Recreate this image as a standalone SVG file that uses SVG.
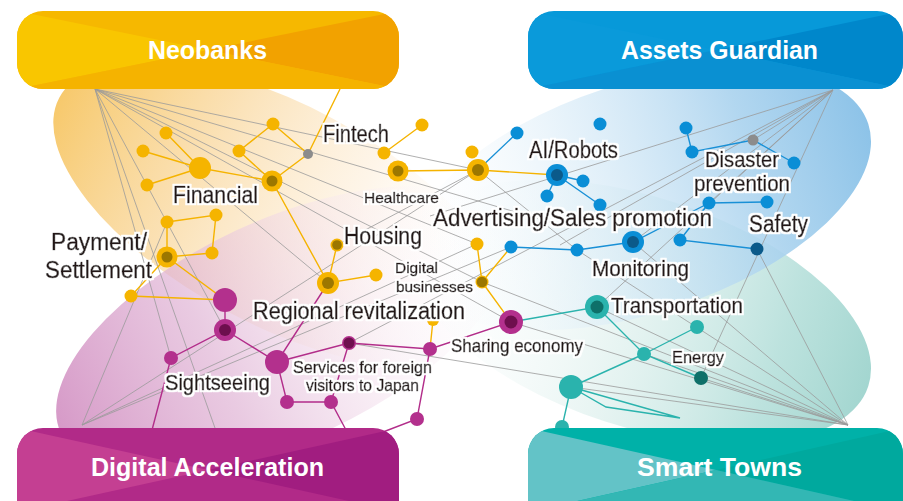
<svg xmlns="http://www.w3.org/2000/svg" width="903" height="501" viewBox="0 0 903 501">
<defs>
<linearGradient id="gy" x1="0" y1="0.5" x2="1" y2="0.5">
<stop offset="0" stop-color="#F6C35C" stop-opacity="0.9"/>
<stop offset="0.3" stop-color="#F9D699" stop-opacity="0.75"/>
<stop offset="0.62" stop-color="#FDEBD2" stop-opacity="0.5"/>
<stop offset="0.9" stop-color="#FFFFFF" stop-opacity="0"/>
</linearGradient>
<linearGradient id="gp" x1="0" y1="0.5" x2="1" y2="0.5">
<stop offset="0" stop-color="#CF88BE" stop-opacity="0.85"/>
<stop offset="0.35" stop-color="#E0B4D5" stop-opacity="0.7"/>
<stop offset="0.7" stop-color="#F6E5F0" stop-opacity="0.4"/>
<stop offset="1" stop-color="#FFFFFF" stop-opacity="0"/>
</linearGradient>
<linearGradient id="gb" x1="0" y1="0.5" x2="1" y2="0.5">
<stop offset="0" stop-color="#FFFFFF" stop-opacity="0"/>
<stop offset="0.4" stop-color="#D6EAF7" stop-opacity="0.6"/>
<stop offset="0.75" stop-color="#A9D2EE" stop-opacity="0.9"/>
<stop offset="1" stop-color="#8DC3E8" stop-opacity="1"/>
</linearGradient>
<linearGradient id="gt" x1="0" y1="0.5" x2="1" y2="0.5">
<stop offset="0" stop-color="#FFFFFF" stop-opacity="0"/>
<stop offset="0.45" stop-color="#DCEFEC" stop-opacity="0.6"/>
<stop offset="0.8" stop-color="#B5DFDA" stop-opacity="0.9"/>
<stop offset="1" stop-color="#A3D6D0" stop-opacity="1"/>
</linearGradient>
<clipPath id="cNeo"><rect x="17" y="11" width="382" height="78" rx="26"/></clipPath>
<clipPath id="cAss"><rect x="528" y="11" width="375" height="78" rx="26"/></clipPath>
<clipPath id="cDig"><rect x="17" y="428" width="382" height="110" rx="26"/></clipPath>
<clipPath id="cSma"><rect x="528" y="428" width="375" height="110" rx="26"/></clipPath>
<filter id="halo" x="-5%" y="-5%" width="110%" height="110%">
<feMorphology in="SourceAlpha" operator="dilate" radius="1.6" result="d"/>
<feFlood flood-color="#ffffff"/>
<feComposite in2="d" operator="in" result="w"/>
<feMerge><feMergeNode in="w"/><feMergeNode in="SourceGraphic"/></feMerge>
</filter>
<style>
.gl{stroke:#9b9b9b;stroke-width:0.8;fill:none}
.yl{stroke:#F5B300;stroke-width:1.4;fill:none}
.bl{stroke:#1990D6;stroke-width:1.4;fill:none}
.pl{stroke:#B22D8A;stroke-width:1.4;fill:none}
.tl{stroke:#2BB3AD;stroke-width:1.4;fill:none}
.y{fill:#F5B400}.yd{fill:#9C7700}
.p{fill:#B3308D}.pd{fill:#6E0F4E}
.b{fill:#0A8ED6}.bd{fill:#0B5A8A}
.t{fill:#2AB3AD}.td{fill:#0E7069}
.g{fill:#8c8c8c}
.lbl{font-family:"Liberation Sans",Arial,sans-serif;fill:#231815;stroke:#231815;stroke-width:0.55;stroke-linejoin:round}
.ttl{font-family:"Liberation Sans",Arial,sans-serif;font-weight:bold;fill:#fff;font-size:25px}
</style>
</defs>
<rect width="903" height="501" fill="#fff"/>
<g id="backgrounds">
<ellipse cx="280" cy="215" rx="250" ry="110" transform="rotate(28 280 215)" fill="url(#gy)"/>
<ellipse cx="283" cy="330" rx="245" ry="110" transform="rotate(-25 283 330)" fill="url(#gp)"/>
<ellipse cx="640" cy="312" rx="240" ry="115" transform="rotate(18 640 312)" fill="url(#gt)"/>
<ellipse cx="640" cy="198" rx="240" ry="115" transform="rotate(-18 640 198)" fill="url(#gb)"/>
</g>
<g id="connectors">
<g id="fan-lines">
<path class="gl" d="M95 89L478 170M95 89L560 225M95 89L477 244M95 89L482 282M95 89L511 322M95 89L328 283M95 89L225 330M95 89L171 358M95 89L215 428"/>
<path class="gl" d="M833 90L430 216M833 90L560 245M833 90L633 242M833 90L597 307M833 90L701 378M833 90L709 203M833 90L349 343M833 90L753 140"/>
<path class="gl" d="M82 425L167 222M82 425L478 170M82 425L477 244M82 425L511 247"/>
<path class="gl" d="M848 425L349 343M848 425L511 322M848 425L482 282M848 425L571 387M848 425L701 378M848 425L597 307M848 425L577 250M848 425L633 242M848 425L757 249M848 425L644 354"/>
<path class="gl" d="M478 170L337 245M478 170L577 250"/>
</g>
<path class="yl" d="M166 133L200 168M143 151L200 168M200 168L147 185M200 168L272 181M239 151L273 124M239 151L272 181M273 124L308 154L272 181M308 154L340 89M272 181L328 283M384 153L422 125M398 171L478 170L557 175M337 245L328 283L376 275M477 244L482 282L511 247M482 282L511 322M433 320L430 349M167 222L216 215L212 253L167 257L167 222M167 257L131 296L225 300L167 257"/>
<path class="pl" d="M225 300L225 330L171 358L152 430M225 330L277 362L328 283M277 362L349 343L430 349L511 322M277 362L287 402L331 402L346 430M349 343L331 402M430 349L417 419L383 432"/>
<path class="bl" d="M478 170L517 133M557 175L583 181M557 175L547 196M557 175L600 205M686 128L692 152L753 140L794 163M709 203L767 202M709 203L680 240L757 249M709 203L633 242L577 250L511 247"/>
<path class="tl" d="M511 322L597 307L644 354L701 378M644 354L697 327M571 387L644 354M571 387L562 427M571 387L606 407L680 418L571 387"/>
</g>
<g id="n-y1"><circle class="y" cx="166" cy="133" r="6.5"/></g>
<g id="n-y2"><circle class="y" cx="143" cy="151" r="6.5"/></g>
<g id="n-y3"><circle class="y" cx="200" cy="168" r="11"/></g>
<g id="n-y4"><circle class="y" cx="147" cy="185" r="6.5"/></g>
<g id="n-y5"><circle class="y" cx="239" cy="151" r="6.5"/></g>
<g id="n-y6"><circle class="y" cx="273" cy="124" r="6.5"/></g>
<g id="n-y7"><circle class="y" cx="272" cy="181" r="10.5"/><circle class="yd" cx="272" cy="181" r="5.5"/></g>
<g id="n-g1"><circle class="g" cx="308" cy="154" r="5"/></g>
<g id="n-y8"><circle class="y" cx="384" cy="153" r="6.5"/></g>
<g id="n-y9"><circle class="y" cx="422" cy="125" r="6.5"/></g>
<g id="n-y10"><circle class="y" cx="398" cy="171" r="10.5"/><circle class="yd" cx="398" cy="171" r="5.5"/></g>
<g id="n-y11"><circle class="y" cx="472" cy="152" r="6.5"/></g>
<g id="n-y12"><circle class="y" cx="478" cy="170" r="11"/><circle class="yd" cx="478" cy="170" r="6"/></g>
<g id="n-y13"><circle class="y" cx="337" cy="245" r="6.5"/><circle class="yd" cx="337" cy="245" r="4.8"/></g>
<g id="n-y14"><circle class="y" cx="477" cy="244" r="6.5"/></g>
<g id="n-y15"><circle class="y" cx="482" cy="282" r="6.5"/><circle class="yd" cx="482" cy="282" r="5.3"/></g>
<g id="n-y16"><circle class="y" cx="376" cy="275" r="6.5"/></g>
<g id="n-y17"><circle class="y" cx="328" cy="283" r="11"/><circle class="yd" cx="328" cy="283" r="6"/></g>
<g id="n-y18"><circle class="y" cx="433" cy="320" r="6"/></g>
<g id="n-y19"><circle class="y" cx="167" cy="222" r="6.5"/></g>
<g id="n-y20"><circle class="y" cx="216" cy="215" r="6.5"/></g>
<g id="n-y21"><circle class="y" cx="167" cy="257" r="10.5"/><circle class="yd" cx="167" cy="257" r="5.5"/></g>
<g id="n-y22"><circle class="y" cx="212" cy="253" r="6.5"/></g>
<g id="n-y23"><circle class="y" cx="131" cy="296" r="6.5"/></g>
<g id="n-p1"><circle class="p" cx="225" cy="300" r="12"/></g>
<g id="n-p2"><circle class="p" cx="225" cy="330" r="11"/><circle class="pd" cx="225" cy="330" r="6"/></g>
<g id="n-p3"><circle class="p" cx="171" cy="358" r="7"/></g>
<g id="n-p4"><circle class="p" cx="277" cy="362" r="12"/></g>
<g id="n-p5"><circle class="p" cx="349" cy="343" r="7"/><circle class="pd" cx="349" cy="343" r="5.5"/></g>
<g id="n-p6"><circle class="p" cx="430" cy="349" r="7"/></g>
<g id="n-p7"><circle class="p" cx="287" cy="402" r="7"/></g>
<g id="n-p8"><circle class="p" cx="331" cy="402" r="7"/></g>
<g id="n-p9"><circle class="p" cx="417" cy="419" r="7"/></g>
<g id="n-p10"><circle class="p" cx="511" cy="322" r="12"/><circle class="pd" cx="511" cy="322" r="6.5"/></g>
<g id="n-b1"><circle class="b" cx="517" cy="133" r="6.5"/></g>
<g id="n-b2"><circle class="b" cx="600" cy="124" r="6.5"/></g>
<g id="n-b3"><circle class="b" cx="557" cy="175" r="11"/><circle class="bd" cx="557" cy="175" r="6"/></g>
<g id="n-b4"><circle class="b" cx="583" cy="181" r="6.5"/></g>
<g id="n-b5"><circle class="b" cx="547" cy="196" r="6.5"/></g>
<g id="n-b6"><circle class="b" cx="600" cy="205" r="6.5"/></g>
<g id="n-b7"><circle class="b" cx="686" cy="128" r="6.5"/></g>
<g id="n-b8"><circle class="b" cx="692" cy="152" r="6.5"/></g>
<g id="n-g2"><circle class="g" cx="753" cy="140" r="5.5"/></g>
<g id="n-b9"><circle class="b" cx="794" cy="163" r="6.5"/></g>
<g id="n-b10"><circle class="b" cx="709" cy="203" r="6.5"/></g>
<g id="n-b11"><circle class="b" cx="767" cy="202" r="6.5"/></g>
<g id="n-b12"><circle class="b" cx="633" cy="242" r="11"/><circle class="bd" cx="633" cy="242" r="6"/></g>
<g id="n-b13"><circle class="b" cx="680" cy="240" r="6.5"/></g>
<g id="n-b14"><circle class="bd" cx="757" cy="249" r="6.5"/></g>
<g id="n-b15"><circle class="b" cx="511" cy="247" r="6.5"/></g>
<g id="n-b16"><circle class="b" cx="577" cy="250" r="6.5"/></g>
<g id="n-t1"><circle class="t" cx="597" cy="307" r="12"/><circle class="td" cx="597" cy="307" r="6.5"/></g>
<g id="n-t2"><circle class="t" cx="697" cy="327" r="7"/></g>
<g id="n-t3"><circle class="t" cx="644" cy="354" r="7"/></g>
<g id="n-t4"><circle class="td" cx="701" cy="378" r="7"/></g>
<g id="n-t5"><circle class="t" cx="571" cy="387" r="12"/></g>
<g id="n-t6"><circle class="t" cx="562" cy="427" r="7"/></g>
<g id="labels" filter="url(#halo)">
<text class="lbl" x="323" y="142" font-size="23" textLength="66" lengthAdjust="spacingAndGlyphs">Fintech</text>
<text class="lbl" x="173" y="203" font-size="24" textLength="85" lengthAdjust="spacingAndGlyphs">Financial</text>
<text class="lbl" x="364" y="203" font-size="15" textLength="75" lengthAdjust="spacingAndGlyphs">Healthcare</text>
<text class="lbl" x="529" y="158" font-size="23" textLength="89" lengthAdjust="spacingAndGlyphs">AI/Robots</text>
<text class="lbl" x="705" y="167" font-size="21.5" textLength="74" lengthAdjust="spacingAndGlyphs">Disaster</text>
<text class="lbl" x="694" y="191" font-size="21.5" textLength="96" lengthAdjust="spacingAndGlyphs">prevention</text>
<text class="lbl" x="433" y="226" font-size="23" textLength="279" lengthAdjust="spacingAndGlyphs">Advertising/Sales promotion</text>
<text class="lbl" x="749" y="232" font-size="23" textLength="59" lengthAdjust="spacingAndGlyphs">Safety</text>
<text class="lbl" x="344" y="244" font-size="23" textLength="78" lengthAdjust="spacingAndGlyphs">Housing</text>
<text class="lbl" x="51" y="250" font-size="23" textLength="96" lengthAdjust="spacingAndGlyphs">Payment/</text>
<text class="lbl" x="45" y="278" font-size="23" textLength="107" lengthAdjust="spacingAndGlyphs">Settlement</text>
<text class="lbl" x="395" y="273" font-size="15" textLength="43" lengthAdjust="spacingAndGlyphs">Digital</text>
<text class="lbl" x="396" y="292" font-size="15" textLength="77" lengthAdjust="spacingAndGlyphs">businesses</text>
<text class="lbl" x="253" y="319" font-size="23" textLength="212" lengthAdjust="spacingAndGlyphs">Regional revitalization</text>
<text class="lbl" x="592" y="276" font-size="22" textLength="97" lengthAdjust="spacingAndGlyphs">Monitoring</text>
<text class="lbl" x="611" y="313" font-size="22" textLength="132" lengthAdjust="spacingAndGlyphs">Transportation</text>
<text class="lbl" x="451" y="352" font-size="18" textLength="132" lengthAdjust="spacingAndGlyphs">Sharing economy</text>
<text class="lbl" x="672" y="363" font-size="17" textLength="52" lengthAdjust="spacingAndGlyphs">Energy</text>
<text class="lbl" x="293" y="373" font-size="17" textLength="139" lengthAdjust="spacingAndGlyphs">Services for foreign</text>
<text class="lbl" x="306" y="391" font-size="17" textLength="113" lengthAdjust="spacingAndGlyphs">visitors to Japan</text>
<text class="lbl" x="165" y="390" font-size="22" textLength="105" lengthAdjust="spacingAndGlyphs">Sightseeing</text>
</g>
<g id="box-neobanks">
<g clip-path="url(#cNeo)">
<rect x="17" y="11" width="382" height="78" fill="#F6B800"/>
<polygon points="17,11 208,50 17,89" fill="#F9C600"/>
<polygon points="399,11 208,50 399,89" fill="#F2A200"/>
<polygon points="17,89 208,50 399,89" fill="#F5B300"/>
</g>
<text class="ttl" x="148" y="59" textLength="119" lengthAdjust="spacingAndGlyphs">Neobanks</text>
</g>
<g id="box-assets-guardian">
<g clip-path="url(#cAss)">
<rect x="528" y="11" width="375" height="78" fill="#0799D9"/>
<polygon points="528,11 716,50 528,89" fill="#0A9ADA"/>
<polygon points="903,11 716,50 903,89" fill="#0087CB"/>
<polygon points="528,89 716,50 903,89" fill="#0A90D2"/>
</g>
<text class="ttl" x="621" y="59" textLength="197" lengthAdjust="spacingAndGlyphs">Assets Guardian</text>
</g>
<g id="box-digital-acceleration">
<g clip-path="url(#cDig)">
<rect x="17" y="428" width="382" height="110" fill="#B12A88"/>
<polygon points="17,428 208,470 17,512" fill="#C43F92"/>
<polygon points="399,428 208,470 399,512" fill="#A11D80"/>
</g>
<text class="ttl" x="91" y="476" textLength="233" lengthAdjust="spacingAndGlyphs">Digital Acceleration</text>
</g>
<g id="box-smart-towns">
<g clip-path="url(#cSma)">
<rect x="528" y="428" width="375" height="110" fill="#00B1A8"/>
<polygon points="528,428 716,470 528,512" fill="#63C3C7"/>
<polygon points="903,428 716,470 903,512" fill="#00A99E"/>
<polygon points="528,512 716,470 903,512" fill="#33B7B4"/>
</g>
<text class="ttl" x="637" y="476" textLength="165" lengthAdjust="spacingAndGlyphs">Smart Towns</text>
</g>
</svg>
